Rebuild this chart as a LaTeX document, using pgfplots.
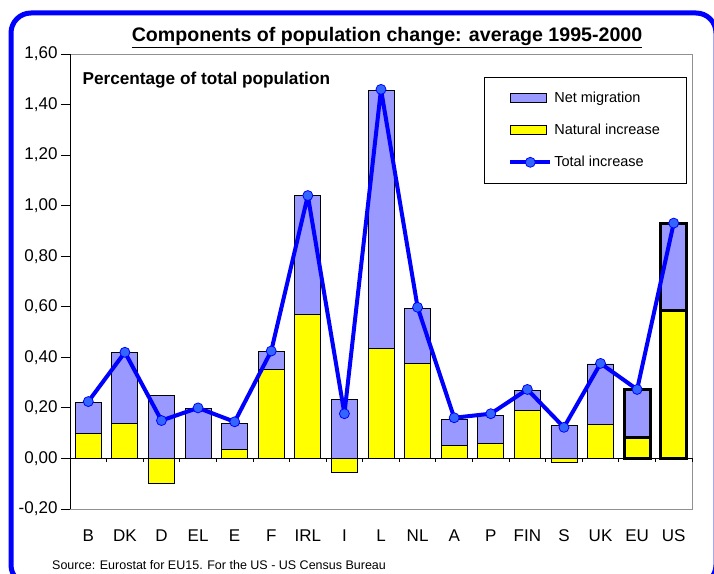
\documentclass[border=0pt]{standalone}
\usepackage{pgfplots}
\pgfplotsset{compat=1.18}
\usepackage{pgfplotstable}
\usepackage{fontspec}
\setmainfont{Liberation Sans}
\definecolor{netmig}{HTML}{9999FF}
\definecolor{natinc}{HTML}{FFFF00}
\definecolor{totline}{HTML}{0000FF}
\definecolor{totmark}{HTML}{3366FF}
\definecolor{framegray}{HTML}{909090}

% top = height of the bar above zero (natural increase if positive + net migration)
\pgfplotstableread{
idx top nat
0 0.223 0.098
1 0.418 0.140
2 0.248 -0.099
3 0.199 0.000
4 0.140 0.034
5 0.424 0.353
6 1.039 0.568
7 0.232 -0.057
8 1.456 0.434
9 0.595 0.376
10 0.156 0.050
11 0.171 0.059
12 0.269 0.189
13 0.130 -0.015
14 0.374 0.136
}\countries
\pgfplotstableread{
idx top nat
15 0.271 0.084
16 0.928 0.587
}\aggregates
\pgfplotstableread{
idx total
0 0.225
1 0.420
2 0.150
3 0.200
4 0.145
5 0.425
6 1.040
7 0.177
8 1.460
9 0.598
10 0.161
11 0.177
12 0.273
13 0.123
14 0.376
15 0.273
16 0.931
}\totals

\pgfplotsset{
  netlegend/.style={legend image code/.code={\draw[fill=netmig, draw=black, line width=0.8pt] (0pt,-4.5pt) rectangle (36pt,4.5pt);}},
  natlegend/.style={legend image code/.code={\draw[fill=natinc, draw=black, line width=0.8pt] (0pt,-4.5pt) rectangle (36pt,4.5pt);}},
  totlegend/.style={legend image code/.code={\draw[totline, line width=4pt] (0pt,0pt) -- (40pt,0pt); \filldraw[fill=totmark, draw=totline, line width=0.8pt] (20pt,0pt) circle (5pt);}},
}

\begin{document}
\begin{tikzpicture}[x=1pt,y=1pt]
\useasboundingbox (0,0) rectangle (714,573);
\clip (0,0) rectangle (714,573);
\fill[white] (0,0) rectangle (714,573);
\begin{axis}[
  at={(70pt,64pt)}, anchor=south west,
  scale only axis, width=622pt, height=455pt,
  xmin=-0.5, xmax=16.5, ymin=-0.2, ymax=1.6,
  axis line style={draw=framegray, line width=0.8pt},
  xtick={0,...,16},
  xticklabels={B,DK,D,EL,E,F,IRL,I,L,NL,A,P,FIN,S,UK,EU,US},
  x tick style={draw=none},
  xticklabel style={font=\fontsize{17}{20}\selectfont, yshift=-8pt},
  ytick={-0.2,0,0.2,0.4,0.6,0.8,1.0,1.2,1.4,1.6},
  yticklabels={{-0,20},{0,00},{0,20},{0,40},{0,60},{0,80},{1,00},{1,20},{1,40},{1,60}},
  yticklabel style={font=\fontsize{17}{20}\selectfont},
  y tick style={black, line width=0.8pt},
  ytick pos=left,
  tick align=outside,
  major tick length=9pt,
  clip=false,
  legend style={at={(0.6656,0.9495)}, anchor=north west, draw=black, line width=0.6pt,
    font=\fontsize{14.5}{17}\selectfont, inner xsep=24pt, inner ysep=13pt, row sep=16pt},
  legend cell align=left,
]
% net migration (bars from zero to total positive height)
\addplot[ybar, bar width=0.71, bar shift=0pt, fill=netmig, draw=black, line width=0.8pt, netlegend]
  table[x=idx, y=top] {\countries};
\addlegendentry{Net migration}
\addplot[ybar, bar width=0.71, bar shift=0pt, fill=natinc, draw=black, line width=0.8pt, natlegend]
  table[x=idx, y=nat] {\countries};
\addlegendentry{Natural increase}
\addplot[ybar, bar width=0.71, bar shift=0pt, fill=netmig, draw=black, line width=3pt, forget plot]
  table[x=idx, y=top] {\aggregates};
\addplot[ybar, bar width=0.71, bar shift=0pt, fill=natinc, draw=black, line width=3pt, forget plot]
  table[x=idx, y=nat] {\aggregates};
% zero line with category boundary ticks
\draw[black, line width=0.8pt] (axis cs:-0.5,0) -- (axis cs:16.5,0);
\pgfplotsinvokeforeach{-0.5,0.5,...,16.5}{
  \draw[black, line width=0.8pt] (axis cs:#1,0) -- ++(0pt,-4pt);
}
\draw[black, line width=0.8pt] (rel axis cs:0,0) -- (rel axis cs:0,1);
\addplot[totline, line width=4pt, line join=round, mark=*, mark size=5pt,
  mark options={fill=totmark, draw=totline, line width=0.8pt}, totlegend]
  table[x=idx, y=total] {\totals};
\addlegendentry{Total increase}
\end{axis}
\node[anchor=west, font=\bfseries\fontsize{17.2}{20}\selectfont] at (79,493) {Percentage of total population};
\node[anchor=base, font=\bfseries\fontsize{19.6}{23}\selectfont, inner sep=0pt] at (387,531) {\underline{Components of population change: average 1995-2000}};
\node[anchor=base west, font=\fontsize{12.5}{15}\selectfont, inner sep=0pt] at (52,4) {Source: Eurostat for EU15. For the US - US Census Bureau};
\draw[totline, line width=5pt, rounded corners=20pt] (11,-12) rectangle (716,560);
\end{tikzpicture}
\end{document}
